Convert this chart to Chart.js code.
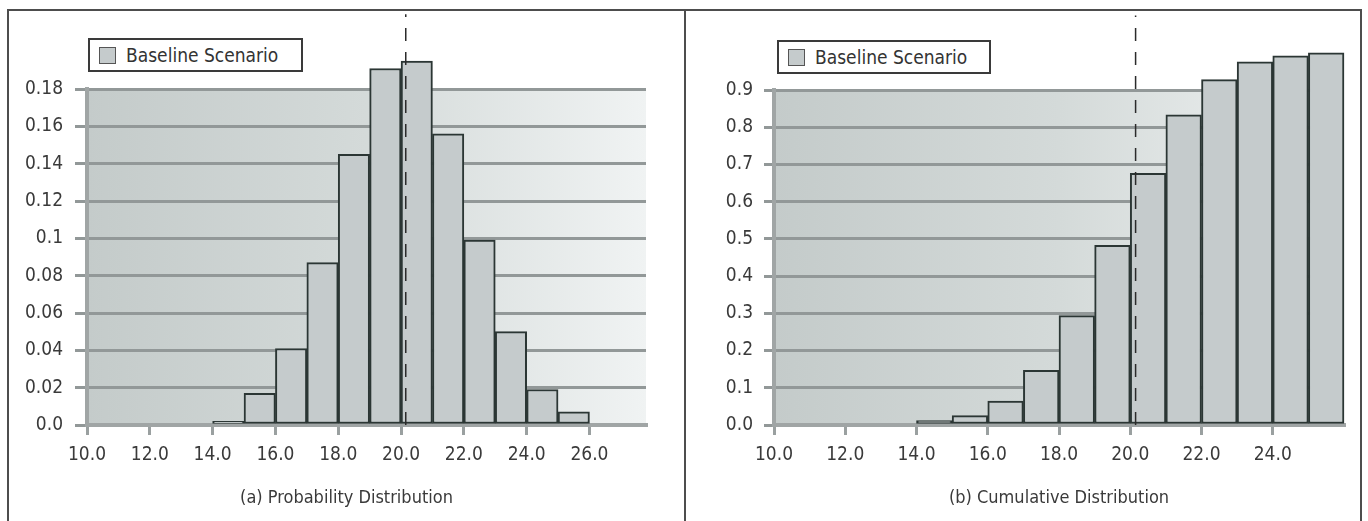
<!DOCTYPE html>
<html>
<head>
<meta charset="utf-8">
<script src="https://cdn.jsdelivr.net/npm/chart.js@4.4.1/dist/chart.umd.min.js"></script>
<style>
  body { margin:0; background:#fff; width:1368px; height:521px; overflow:hidden; position:relative;
         font-family:"DejaVu Sans Condensed",sans-serif; }
  #frame { position:absolute; left:7px; top:9px; width:1351px; height:530px; border:2px solid #4d4d4d; }
  #divider { position:absolute; left:684px; top:9px; width:2px; height:540px; background:#4d4d4d; }
  canvas { position:absolute; top:11px; }
  #probChart { left:9px; }
  #cumChart { left:687px; }
  .legend { position:absolute; box-sizing:border-box; height:34px; border:2px solid #3a3a3a; background:#fff;
            font-size:19px; color:#333; display:flex; align-items:center; padding-left:9px; }
  .legend .swatch { width:15px; height:15px; border:1px solid #555; margin-right:10px; }
</style>
</head>
<body>
<div id="frame"></div>
<div id="divider"></div>
<canvas id="probChart" width="675" height="510"></canvas>
<canvas id="cumChart" width="673" height="510"></canvas>
<div class="legend" id="probLegend" style="left:88px; top:38px; width:215px;"></div>
<div class="legend" id="cumLegend" style="left:777px; top:40px; width:214px;"></div>
<script>
// bins are one unit wide, centred on these values
const binCenters = [14.5, 15.5, 16.5, 17.5, 18.5, 19.5, 20.5, 21.5, 22.5, 23.5, 24.5, 25.5];
const probValues = [0.002, 0.017, 0.041, 0.087, 0.145, 0.191, 0.195, 0.156, 0.099, 0.050, 0.019, 0.007];
const cumValues  = [0.012, 0.025, 0.064, 0.147, 0.294, 0.483, 0.676, 0.833, 0.928, 0.976, 0.992, 1.0];
const seriesName = 'Baseline Scenario';

// dashed reference line
const meanValue = 20.15;
const probMeanTop = 0.22;
const cumMeanTop = 1.1;

const probXTicks  = [10, 12, 14, 16, 18, 20, 22, 24, 26];
const probXLabels = ['10.0', '12.0', '14.0', '16.0', '18.0', '20.0', '22.0', '24.0', '26.0'];
const probYTicks  = [0, 0.02, 0.04, 0.06, 0.08, 0.1, 0.12, 0.14, 0.16, 0.18];
const probYLabels = ['0.0', '0.02', '0.04', '0.06', '0.08', '0.1', '0.12', '0.14', '0.16', '0.18'];

const cumXTicks  = [10, 12, 14, 16, 18, 20, 22, 24];
const cumXLabels = ['10.0', '12.0', '14.0', '16.0', '18.0', '20.0', '22.0', '24.0'];
const cumYTicks  = [0, 0.1, 0.2, 0.3, 0.4, 0.5, 0.6, 0.7, 0.8, 0.9];
const cumYLabels = ['0.0', '0.1', '0.2', '0.3', '0.4', '0.5', '0.6', '0.7', '0.8', '0.9'];

const FONT = '"DejaVu Sans Condensed", sans-serif';
const textColor = '#3a3a3a';

const plotBackground = {
  id: 'plotBackground',
  beforeDraw(chart) {
    const { ctx, chartArea: a } = chart;
    const g = ctx.createLinearGradient(a.left, 0, a.right, 0);
    g.addColorStop(0, '#c4cbca');
    g.addColorStop(0.5, '#d4dad9');
    g.addColorStop(1, '#f0f3f3');
    ctx.save();
    ctx.fillStyle = g;
    ctx.fillRect(a.left, a.top, a.right - a.left, a.bottom - a.top);
    ctx.restore();
  }
};

function makeChart(id, s) {
  const config = {
    type: 'bar',
    data: {
      datasets: [
        {
          type: 'line',
          data: [{ x: meanValue, y: 0 }, { x: meanValue, y: s.meanTop }],
          borderColor: '#2b2b2b',
          borderWidth: 1.5,
          borderDash: [13, 11],
          pointRadius: 0,
          clip: false,
          order: 0
        },
        {
          type: 'bar',
          label: seriesName,
          data: binCenters.map((x, i) => ({ x: x, y: s.values[i] })),
          backgroundColor: '#c5cbcc',
          borderColor: '#2b3634',
          borderWidth: 2,
          borderSkipped: false,
          barPercentage: 1,
          categoryPercentage: 1,
          clip: false,
          order: 1
        }
      ]
    },
    options: {
      responsive: false,
      animation: false,
      layout: { padding: { top: s.padTop, right: s.padRight, left: 0, bottom: 0 } },
      plugins: {
        legend: { display: false },
        tooltip: { enabled: false },
        title: {
          display: true,
          text: s.title,
          position: 'bottom',
          fullSize: s.titleFull,
          color: textColor,
          font: { family: FONT, size: 18, weight: 'normal' },
          padding: { top: 0, bottom: 12 }
        }
      },
      scales: {
        x: {
          type: 'linear',
          offset: false,
          min: 10,
          max: s.xMax,
          afterBuildTicks: (sc) => { sc.ticks = s.xTicks.map(v => ({ value: v })); },
          afterFit: (sc) => {
            sc.height = 62.4;
            if (s.xPadRight) sc.paddingRight = s.xPadRight;
          },
          ticks: {
            autoSkip: false, maxRotation: 0, padding: 9, color: textColor,
            font: { family: FONT, size: 19 },
            callback: (v, i) => s.xLabels[i]
          },
          grid: { offset: false, drawOnChartArea: false, color: '#9aa0a0', lineWidth: 3, tickLength: 10 },
          border: { color: '#a0a5a5', width: 4 }
        },
        y: {
          min: 0,
          max: s.yMax,
          afterBuildTicks: (sc) => { sc.ticks = s.yTicks.map(v => ({ value: v })); },
          afterFit: (sc) => { sc.width = s.yWidth; },
          ticks: {
            autoSkip: false, padding: s.yPad, color: textColor,
            font: { family: FONT, size: 19 },
            callback: (v, i) => s.yLabels[i]
          },
          grid: { color: '#929898', lineWidth: 3, tickLength: s.yTick },
          border: { color: '#a0a5a5', width: 4 }
        }
      }
    },
    plugins: [plotBackground]
  };
  const chart = new Chart(document.getElementById(id), config);

  const ds = chart.data.datasets[1];
  const legend = document.getElementById(s.legendId);
  const sw = document.createElement('span');
  sw.className = 'swatch';
  sw.style.background = ds.backgroundColor;
  const tx = document.createElement('span');
  tx.textContent = ds.label;
  legend.appendChild(sw);
  legend.appendChild(tx);
  return chart;
}

makeChart('probChart', {
  values: probValues, meanTop: probMeanTop, title: '(a) Probability Distribution', titleFull: true,
  xMax: 27.8, xTicks: probXTicks, xLabels: probXLabels,
  yMax: 0.18, yTicks: probYTicks, yLabels: probYLabels,
  padTop: 78, padRight: 0, xPadRight: 38, yWidth: 78, yPad: 12, yTick: 12, legendId: 'probLegend'
});

makeChart('cumChart', {
  values: cumValues, meanTop: cumMeanTop, title: '(b) Cumulative Distribution', titleFull: false,
  xMax: 26, xTicks: cumXTicks, xLabels: cumXLabels,
  yMax: 0.9, yTicks: cumYTicks, yLabels: cumYLabels,
  padTop: 79, padRight: 16, xPadRight: 0, yWidth: 87, yPad: 11, yTick: 10, legendId: 'cumLegend'
});
</script>
</body>
</html>
